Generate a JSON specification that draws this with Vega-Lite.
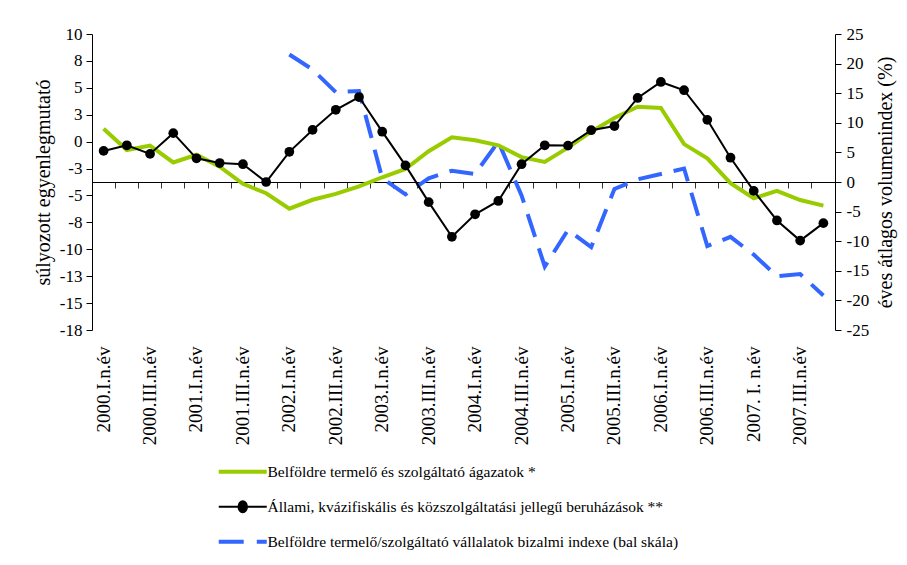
{
  "$schema": "https://vega.github.io/schema/vega-lite/v6.json",
  "width": 743,
  "height": 296,
  "autosize": "none",
  "padding": {"left": 92, "top": 34, "right": 72, "bottom": 235},
  "background": "white",
  "config": {
    "font": "'Liberation Serif', 'Times New Roman', serif",
    "view": {"stroke": null},
    "axis": {"grid": false, "domainColor": "#000", "tickColor": "#000", "labelColor": "#000", "titleColor": "#000", "labelFont": "'Liberation Serif', 'Times New Roman', serif", "titleFont": "'Liberation Serif', 'Times New Roman', serif", "titleFontWeight": "normal"},
    "legend": {"labelFont": "'Liberation Serif', 'Times New Roman', serif"}
  },
  "data": {
    "values": [
      {"q": "2000.I.n.év", "green": 9.0, "black": 5.25, "blue": null},
      {"q": "2000.II.n.év", "green": 5.4, "black": 6.2, "blue": null},
      {"q": "2000.III.n.év", "green": 6.15, "black": 4.75, "blue": null},
      {"q": "2000.IV.n.év", "green": 3.3, "black": 8.25, "blue": null},
      {"q": "2001.I.n.év", "green": 4.6, "black": 4.0, "blue": null},
      {"q": "2001.II.n.év", "green": 2.6, "black": 3.2, "blue": null},
      {"q": "2001.III.n.év", "green": -0.3, "black": 3.0, "blue": null},
      {"q": "2001.IV.n.év", "green": -1.9, "black": 0.0, "blue": null},
      {"q": "2002.I.n.év", "green": -4.5, "black": 5.1, "blue": 8.1},
      {"q": "2002.II.n.év", "green": -3.0, "black": 8.8, "blue": 6.7},
      {"q": "2002.III.n.év", "green": -2.0, "black": 12.2, "blue": 4.6},
      {"q": "2002.IV.n.év", "green": -0.75, "black": 14.35, "blue": 4.7},
      {"q": "2003.I.n.év", "green": 0.8, "black": 8.5, "blue": -3.4},
      {"q": "2003.II.n.év", "green": 2.2, "black": 2.8, "blue": -4.9},
      {"q": "2003.III.n.év", "green": 5.2, "black": -3.4, "blue": -3.4},
      {"q": "2003.IV.n.év", "green": 7.55, "black": -9.25, "blue": -2.7},
      {"q": "2004.I.n.év", "green": 7.05, "black": -5.45, "blue": -3.0},
      {"q": "2004.II.n.év", "green": 6.2, "black": -3.2, "blue": 0.0},
      {"q": "2004.III.n.év", "green": 4.2, "black": 3.0, "blue": -5.0},
      {"q": "2004.IV.n.év", "green": 3.4, "black": 6.2, "blue": -11.6},
      {"q": "2005.I.n.év", "green": 5.8, "black": 6.15, "blue": -8.2},
      {"q": "2005.II.n.év", "green": 8.5, "black": 8.75, "blue": -9.8},
      {"q": "2005.III.n.év", "green": 10.8, "black": 9.45, "blue": -4.4},
      {"q": "2005.IV.n.év", "green": 12.7, "black": 14.2, "blue": -3.5},
      {"q": "2006.I.n.év", "green": 12.5, "black": 16.9, "blue": -3.0},
      {"q": "2006.II.n.év", "green": 6.4, "black": 15.5, "blue": -2.5},
      {"q": "2006.III.n.év", "green": 4.0, "black": 10.5, "blue": -9.7},
      {"q": "2006.IV.n.év", "green": -0.2, "black": 4.1, "blue": -8.85},
      {"q": "2007. I. n.év", "green": -2.75, "black": -1.5, "blue": -10.5},
      {"q": "2007. II. n.év", "green": -1.5, "black": -6.5, "blue": -12.5},
      {"q": "2007.III.n.év", "green": -3.05, "black": -9.9, "blue": -12.3},
      {"q": "2007.IV.n.év", "green": -4.0, "black": -6.95, "blue": -14.3}
    ]
  },
  "layer": [
    {
      "mark": {"type": "line", "strokeWidth": 4, "strokeDash": [24, 12]},
      "encoding": {
        "x": {
          "field": "q", "type": "nominal", "sort": null, "bandPosition": 0.5,
          "scale": {"type": "band", "paddingInner": 0, "paddingOuter": 0},
          "axis": {
            "orient": "bottom", "domain": false, "ticks": false, "labelAngle": -90,
            "labelFontSize": 19, "labelPadding": 16, "labelOverlap": false, "title": null,
            "values": ["2000.I.n.év", "2000.III.n.év", "2001.I.n.év", "2001.III.n.év", "2002.I.n.év", "2002.III.n.év", "2003.I.n.év", "2003.III.n.év", "2004.I.n.év", "2004.III.n.év", "2005.I.n.év", "2005.III.n.év", "2006.I.n.év", "2006.III.n.év", "2007. I. n.év", "2007.III.n.év"]
          }
        },
        "y": {
          "field": "blue", "type": "quantitative",
          "scale": {"domain": [-17.5, 10], "nice": false, "zero": false},
          "axis": {
            "orient": "left",
            "values": [-17.5, -15, -12.5, -10, -7.5, -5, -2.5, 0, 2.5, 5, 7.5, 10],
            "labelExpr": "datum.value < 0 ? '-' + format(-datum.value, '.0f') : format(datum.value, '.0f')",
            "tickSize": 6, "labelPadding": 4, "labelFontSize": 17,
            "title": "súlyozott egyenlegmutató", "titleFontSize": 20, "titlePadding": 6
          }
        },
        "color": {
          "datum": "Belföldre termelő/szolgáltató vállalatok bizalmi indexe (bal skála)",
          "scale": {
            "domain": ["Belföldre termelő és szolgáltató ágazatok *", "Állami, kvázifiskális és közszolgáltatási jellegű beruházások **", "Belföldre termelő/szolgáltató vállalatok bizalmi indexe (bal skála)"],
            "range": ["#99CC00", "#000000", "#3366FF"]
          },
          "legend": {
            "orient": "none", "legendX": 143, "legendY": 430, "direction": "vertical",
            "title": null, "symbolSize": 576, "labelFontSize": 15.5,
            "labelColor": "#000", "labelOffset": 17, "rowPadding": 16, "padding": 0, "labelLimit": 0,
            "encode": {
              "symbols": {
                "update": {
                  "shape": {"signal": "datum.value === 'Belföldre termelő és szolgáltató ágazatok *' ? 'M-2,0H2' : datum.value === 'Állami, kvázifiskális és közszolgáltatási jellegű beruházások **' ? 'M-2,0H2M-0.35,0A0.35,0.45 0 1,0 0.35,0A0.35,0.45 0 1,0 -0.35,0Z' : 'M-2,0H0.08M1.17,0H2'"},
                  "strokeWidth": {"signal": "datum.value === 'Állami, kvázifiskális és közszolgáltatási jellegű beruházások **' ? 2 : 4"},
                  "fill": {"signal": "datum.value === 'Állami, kvázifiskális és közszolgáltatási jellegű beruházások **' ? '#000000' : 'transparent'"},
                  "stroke": {"signal": "datum.value === 'Belföldre termelő és szolgáltató ágazatok *' ? '#99CC00' : datum.value === 'Állami, kvázifiskális és közszolgáltatási jellegű beruházások **' ? '#000000' : '#3366FF'"},
                  "opacity": {"value": 1}
                }
              }
            }
          }
        }
      }
    },
    {
      "mark": {"type": "line", "strokeWidth": 4},
      "encoding": {
        "x": {
          "field": "q", "type": "nominal", "sort": null, "bandPosition": 0.5,
          "axis": {
            "orient": "bottom", "offset": -148, "labels": false, "domain": true, "ticks": true,
            "tickSize": 6, "bandPosition": 1, "tickExtra": true, "title": null, "tickColor": "#333"
          }
        },
        "y": {
          "field": "green", "type": "quantitative",
          "scale": {"domain": [-25, 25], "nice": false, "zero": false},
          "axis": {
            "orient": "right",
            "values": [-25, -20, -15, -10, -5, 0, 5, 10, 15, 20, 25],
            "labelExpr": "datum.value < 0 ? '-' + format(-datum.value, '.0f') : format(datum.value, '.0f')",
            "tickSize": 6, "labelPadding": 5, "labelFontSize": 17,
            "title": "éves átlagos volumenindex (%)", "titleFontSize": 20,
            "titleAngle": -90, "titleBaseline": "top", "titlePadding": 7
          }
        },
        "color": {"datum": "Belföldre termelő és szolgáltató ágazatok *"}
      }
    },
    {
      "mark": {"type": "line", "strokeWidth": 2, "point": {"filled": true, "size": 95}},
      "encoding": {
        "x": {"field": "q", "type": "nominal", "sort": null, "bandPosition": 0.5, "axis": null},
        "y": {
          "field": "black", "type": "quantitative",
          "scale": {"domain": [-25, 25], "nice": false, "zero": false},
          "axis": null
        },
        "color": {"datum": "Állami, kvázifiskális és közszolgáltatási jellegű beruházások **"}
      }
    }
  ],
  "resolve": {"scale": {"y": "independent"}, "axis": {"x": "independent", "y": "independent"}}
}
